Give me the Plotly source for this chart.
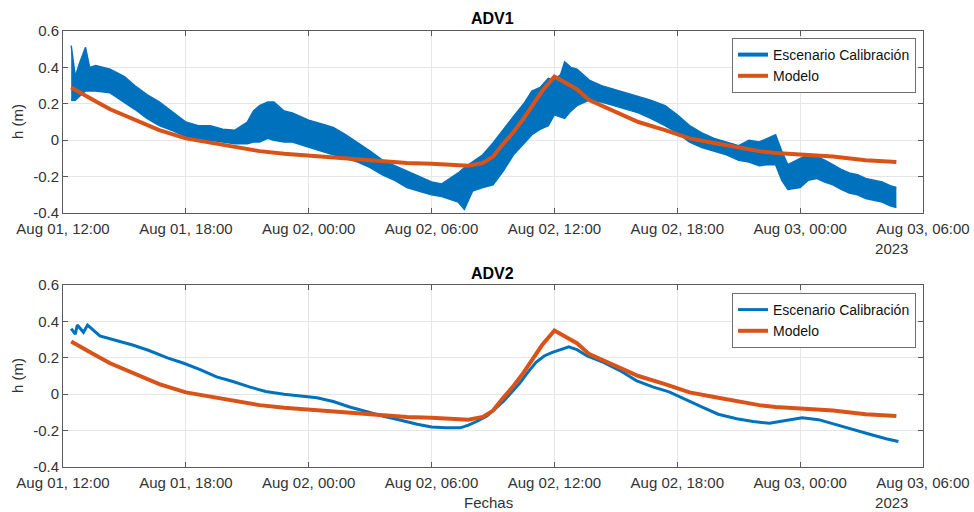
import pandas as pd
import plotly.graph_objects as go

# ---------------- data (hours after 2023-08-01 12:00) ----------------
start = pd.Timestamp("2023-08-01 12:00")

adv1_hours = [0.4, 0.6, 0.8, 1.1, 1.3, 1.6, 2.3, 3.0, 3.5, 4.1, 4.7, 5.4, 6.0, 6.6, 7.2, 7.8, 8.4,
              9.0, 9.3, 9.6, 10.0, 10.3, 10.8, 11.2, 12.0, 12.6, 13.2, 13.8, 14.4, 15.0, 15.6, 16.2,
              16.8, 17.4, 18.0, 18.5, 19.0, 19.3, 19.6, 20.0, 20.5, 21.0, 21.5, 22.0, 22.5, 22.9,
              23.3, 23.7, 24.0, 24.3, 24.5, 24.8, 25.1, 25.7, 26.3, 26.9, 27.5, 28.1, 28.7, 29.4,
              30.0, 30.6, 31.2, 31.8, 32.4, 33.0, 33.5, 34.0, 34.4, 34.8, 35.1, 35.4, 36.0, 36.4,
              36.8, 37.2, 37.6, 38.0, 38.4, 38.8, 39.2, 39.6, 40.0, 40.4, 40.7]
adv1_upper = [0.52, 0.35, 0.42, 0.51, 0.40, 0.41, 0.39, 0.35, 0.30, 0.25, 0.21, 0.15, 0.10, 0.08,
              0.08, 0.06, 0.055, 0.10, 0.16, 0.19, 0.21, 0.21, 0.16, 0.15, 0.11, 0.09, 0.07, 0.03,
              -0.015, -0.06, -0.11, -0.14, -0.17, -0.20, -0.23, -0.24, -0.20, -0.18, -0.15, -0.12,
              -0.08, -0.015, 0.06, 0.13, 0.20, 0.27, 0.29, 0.34, 0.33, 0.36, 0.43, 0.40, 0.39, 0.33,
              0.30, 0.28, 0.26, 0.24, 0.22, 0.19, 0.14, 0.08, 0.04, 0.01, -0.01, -0.03, 0.00, -0.01,
              0.01, 0.03, -0.06, -0.135, -0.10, -0.08, -0.09, -0.11, -0.135, -0.16, -0.18, -0.19,
              -0.21, -0.22, -0.23, -0.25, -0.26]
adv1_lower = [0.22, 0.22, 0.24, 0.27, 0.27, 0.27, 0.26, 0.21, 0.17, 0.12, 0.08, 0.05, 0.02, 0.00,
              0.00, -0.01, -0.02, -0.02, -0.01, -0.01, 0.01, 0.00, -0.01, -0.01, -0.04, -0.06,
              -0.08, -0.10, -0.12, -0.15, -0.19, -0.22, -0.26, -0.28, -0.30, -0.31, -0.33, -0.34,
              -0.38, -0.28, -0.26, -0.245, -0.17, -0.08, -0.02, 0.03, 0.06, 0.08, 0.14, 0.13, 0.12,
              0.16, 0.19, 0.22, 0.21, 0.19, 0.17, 0.15, 0.12, 0.08, 0.04, -0.01, -0.04, -0.06,
              -0.08, -0.11, -0.12, -0.14, -0.135, -0.135, -0.22, -0.27, -0.26, -0.22, -0.21, -0.23,
              -0.245, -0.27, -0.29, -0.30, -0.32, -0.33, -0.34, -0.36, -0.37]

model_hours = [0.4, 1.0, 1.5, 2.3, 3.0, 3.5, 4.7, 6.0, 7.2, 8.4, 9.6, 10.8, 12.0, 13.2, 14.4, 15.6,
               16.8, 18.0, 19.0, 19.8, 20.5, 21.0, 21.5, 22.0, 22.5, 22.9, 23.4, 24.0, 24.5, 25.1,
               25.7, 26.3, 26.9, 28.1, 29.4, 30.6, 31.8, 33.0, 34.0, 34.8, 35.4, 36.0, 37.6, 39.2,
               40.7]
model_values = [0.29, 0.25, 0.22, 0.17, 0.135, 0.11, 0.055, 0.01, -0.015, -0.035, -0.06, -0.075,
                -0.085, -0.095, -0.11, -0.12, -0.125, -0.13, -0.135, -0.14, -0.125, -0.09, -0.02,
                0.045, 0.12, 0.19, 0.27, 0.35, 0.32, 0.28, 0.22, 0.19, 0.165, 0.10, 0.055, 0.01,
                -0.015, -0.04, -0.06, -0.07, -0.075, -0.075, -0.09, -0.11, -0.12]

adv2_hours = [0.4, 0.6, 0.7, 1.0, 1.2, 1.8, 2.6, 3.4, 4.2, 5.1, 5.9, 6.7, 7.5, 8.3, 9.1, 9.9, 10.8,
              11.6, 12.4, 13.2, 14.0, 14.8, 15.6, 16.4, 17.3, 18.0, 18.7, 19.4, 19.8, 20.2, 20.7,
              21.1, 21.5, 21.9, 22.3, 22.7, 23.1, 23.5, 23.9, 24.3, 24.7, 25.1, 25.6, 26.4, 27.2,
              28.0, 28.8, 29.6, 30.4, 31.3, 32.0, 32.9, 33.7, 34.5, 35.3, 36.1, 36.9, 37.8, 38.6,
              39.4, 40.2, 40.8]
adv2_values = [0.36, 0.33, 0.38, 0.34, 0.38, 0.32, 0.295, 0.27, 0.24, 0.20, 0.17, 0.135, 0.095,
               0.07, 0.04, 0.015, 0.0, -0.01, -0.02, -0.04, -0.07, -0.095, -0.12, -0.14, -0.165,
               -0.18, -0.185, -0.185, -0.17, -0.15, -0.12, -0.08, -0.04, 0.01, 0.06, 0.12, 0.175,
               0.21, 0.23, 0.245, 0.26, 0.245, 0.21, 0.175, 0.13, 0.075, 0.04, 0.013, -0.03,
               -0.075, -0.11, -0.135, -0.15, -0.16, -0.145, -0.13, -0.14, -0.17, -0.195, -0.22,
               -0.245, -0.26]

tick_hours = [0, 6, 12, 18, 24, 30, 36, 42]
tick_labels = ["Aug 01, 12:00", "Aug 01, 18:00", "Aug 02, 00:00", "Aug 02, 06:00",
               "Aug 02, 12:00", "Aug 02, 18:00", "Aug 03, 00:00", "Aug 03, 06:00"]
year_label = "2023"
x_title = "Fechas"
y_title = "h (m)"
y_ticks = [-0.4, -0.2, 0, 0.2, 0.4, 0.6]
y_labels = ["-0.4", "-0.2", "0", "0.2", "0.4", "0.6"]

# ---------------------------------------------------------------------
def to_t(hours):
    return [start + pd.Timedelta(hours=h) for h in hours]

BLUE = "#0072BD"
ORANGE = "#D95319"
FONT = "Liberation Sans, Arial, sans-serif"
TXT = "#333333"
FS = 15

# last tick label carries the year on a second line, left-aligned under the date
NBSP = "\u00a0"
tick_text = list(tick_labels)
tick_text[-1] = tick_labels[-1] + "<br>" + year_label + NBSP * 15

fig = go.Figure()

# ADV1 band (measured noisy signal)
fig.add_trace(go.Scatter(x=to_t(adv1_hours), y=adv1_lower, mode="lines",
                         line=dict(color=BLUE, width=1.5),
                         showlegend=False, hoverinfo="skip", xaxis="x", yaxis="y"))
fig.add_trace(go.Scatter(x=to_t(adv1_hours), y=adv1_upper, mode="lines", fill="tonexty",
                         fillcolor=BLUE, line=dict(color=BLUE, width=1.5),
                         showlegend=False, hoverinfo="skip", xaxis="x", yaxis="y"))
fig.add_trace(go.Scatter(x=[None], y=[None], mode="lines", name="Escenario Calibración",
                         line=dict(color=BLUE, width=4), legend="legend",
                         xaxis="x", yaxis="y"))
fig.add_trace(go.Scatter(x=to_t(model_hours), y=model_values, mode="lines", name="Modelo",
                         line=dict(color=ORANGE, width=4), legend="legend",
                         xaxis="x", yaxis="y"))

# ADV2
fig.add_trace(go.Scatter(x=to_t(adv2_hours), y=adv2_values, mode="lines",
                         name="Escenario Calibración",
                         line=dict(color=BLUE, width=3), legend="legend2",
                         xaxis="x2", yaxis="y2"))
fig.add_trace(go.Scatter(x=to_t(model_hours), y=model_values, mode="lines", name="Modelo",
                         line=dict(color=ORANGE, width=4), legend="legend2",
                         xaxis="x2", yaxis="y2"))

L, R, T, B = 63, 51, 31, 45
W, H = 974, 512
ph = H - T - B
panel = 182
top_dom = [1 - panel / ph, 1]
bot_dom = [0, panel / ph]


def px_y(py):
    return (H - B - py) / ph


def px_x(px):
    return (px - L) / (W - L - R)


xax = dict(type="date", range=[start, start + pd.Timedelta(hours=42)],
           tickvals=to_t(tick_hours), ticktext=tick_text, automargin=False,
           showgrid=True, gridcolor="#e6e6e6", gridwidth=1,
           showline=True, linecolor="#5a5a5a", linewidth=1, mirror="ticks",
           ticks="inside", ticklen=5, tickcolor="#5a5a5a", ticklabelstandoff=2,
           tickfont=dict(family=FONT, size=FS, color=TXT), zeroline=False)
yax = dict(range=[-0.4, 0.6], tickvals=y_ticks, ticktext=y_labels, automargin=False,
           showgrid=True, gridcolor="#e6e6e6", gridwidth=1,
           showline=True, linecolor="#5a5a5a", linewidth=1, mirror="ticks",
           ticks="inside", ticklen=5, tickcolor="#5a5a5a",
           tickfont=dict(family=FONT, size=FS, color=TXT), zeroline=False)

leg = dict(font=dict(family=FONT, size=14, color="#111"), bgcolor="white",
           bordercolor="#6e6e6e", borderwidth=1, xanchor="right", yanchor="top",
           tracegroupgap=0, itemwidth=30, traceorder="normal")


def note(text, x, y, size=FS, color=TXT, angle=0):
    return dict(text=text, x=px_x(x), y=px_y(y), xref="paper", yref="paper",
                xanchor="center", yanchor="middle", textangle=angle, showarrow=False,
                font=dict(family=FONT, size=size, color=color))


annotations = [
    note("<b>ADV1</b>", 492, 18.5, size=16, color="#000"),
    note("<b>ADV2</b>", 492, 273, size=16, color="#000"),
    note(y_title, 17, 122, angle=-90),
    note(y_title, 17, 376, angle=-90),
    note(x_title, 488, 502),
]

fig.update_layout(
    width=W, height=H,
    margin=dict(l=L, r=R, t=T, b=B),
    paper_bgcolor="white", plot_bgcolor="white",
    xaxis=dict(xax, domain=[0, 1], anchor="y"),
    yaxis=dict(yax, domain=top_dom, anchor="x"),
    xaxis2=dict(xax, domain=[0, 1], anchor="y2"),
    yaxis2=dict(yax, domain=bot_dom, anchor="x2"),
    legend=dict(leg, x=px_x(916), y=px_y(38)),
    legend2=dict(leg, x=px_x(916), y=px_y(293)),
    annotations=annotations,
    showlegend=True,
)

fig.write_html("out.html")
